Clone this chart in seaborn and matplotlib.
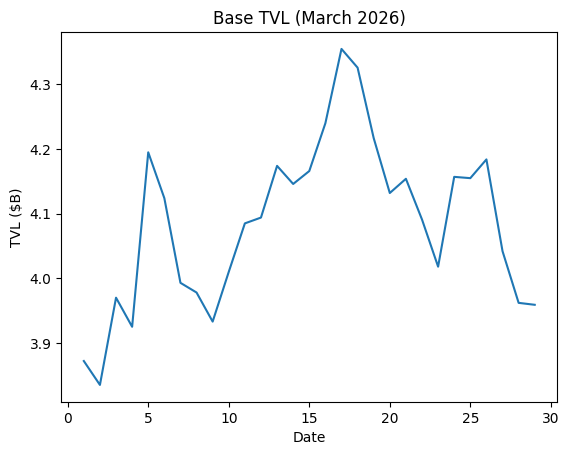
import matplotlib
matplotlib.use("Agg")
import matplotlib.pyplot as plt
import seaborn as sns
import pandas as pd

# March 2026 daily TVL ($B)
days = list(range(1, 30))
tvl = [3.872, 3.835, 3.970, 3.925, 4.195, 4.124, 3.993, 3.978, 3.933, 4.010,
       4.085, 4.094, 4.174, 4.146, 4.166, 4.240, 4.355, 4.326, 4.217, 4.132,
       4.154, 4.091, 4.018, 4.157, 4.155, 4.184, 4.042, 3.962, 3.959]

df = pd.DataFrame({'Date': days, 'TVL': tvl})

fig, ax = plt.subplots(figsize=(6.4, 4.8), dpi=100)
sns.lineplot(data=df, x='Date', y='TVL', ax=ax, color='#1f77b4')
ax.set_title('Base TVL (March 2026)')
ax.set_xlabel('Date')
ax.set_ylabel('TVL ($B)')

plt.savefig('out.png', bbox_inches='tight')
